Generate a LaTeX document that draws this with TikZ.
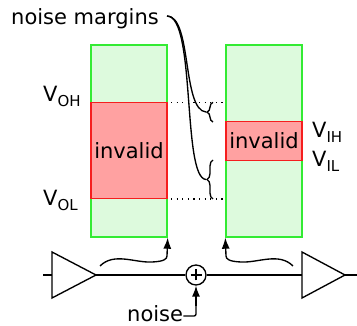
\documentclass[tikz,border=0pt]{standalone}
\usepackage{fontspec}
\setmainfont{DejaVu Sans}
\usetikzlibrary{arrows.meta,decorations.pathreplacing}
\newcommand\Vsub[1]{V\raisebox{-5pt}{\fontsize{15}{15}\selectfont #1}}
\begin{document}
\begin{tikzpicture}[x=1pt,y=-1pt,
  lbl/.style={inner sep=0pt,font=\fontsize{21}{25}\selectfont},
  goodbox/.style={draw={rgb,255:red,51;green,235;blue,51},fill={rgb,255:red,221;green,250;blue,221},line width=1.4pt,minimum width=76pt,inner sep=0pt},
  badbox/.style={draw={rgb,255:red,245;green,30;blue,30},fill={rgb,255:red,255;green,161;blue,161},line width=1.4pt,minimum width=76pt,inner sep=0pt,font=\fontsize{21}{25}\selectfont},
  wire/.style={line width=1.35pt},
  tipshape/.tip={Latex[length=11pt,width=8pt]},
  arr/.style={line width=1.35pt,-tipshape},
  dots/.style={line width=1.1pt,dash pattern=on 1.1pt off 4.5pt},
  brc/.style={line width=1.35pt,decorate,decoration={brace,amplitude=6pt}}]
\useasboundingbox (0,0) rectangle (357,326);
% voltage columns
\node[goodbox,minimum height=192pt] (lg) at (129,141) {};
\node[goodbox,minimum height=192pt] (rg) at (264,141) {};
\node[badbox,minimum height=96.5pt] (lr) at (129,150.5) {invalid};
\node[badbox,minimum height=38.6pt] (rr) at (264,141) {invalid};
% labels
\node[lbl,anchor=base west] (voh) at (43,102) {\Vsub{OH}};
\node[lbl,anchor=base west] (vol) at (43,206) {\Vsub{OL}};
\node[lbl,anchor=base west] (vih) at (312,138) {\Vsub{IH}};
\node[lbl,anchor=base west] (vil) at (312,167) {\Vsub{IL}};
\node[lbl,anchor=base west] (nm) at (11,25) {noise margins};
% dotted lines
\coordinate (d1a) at (171,102.3);
\coordinate (d1b) at (225,102.3);
\coordinate (d2a) at (171,199);
\coordinate (d2b) at (225,199);
\draw[dots] (d1a) -- (d1b);
\draw[dots] (d2a) -- (d2b);
% braces
\coordinate (b1a) at (213,122);
\coordinate (b1b) at (213,102.3);
\coordinate (b2a) at (213,199);
\coordinate (b2b) at (213,160);
\draw[brc] (b1a) -- (b1b);
\draw[brc] (b2a) -- (b2b);
\coordinate (t1) at (206,112);
\coordinate (t2) at (206,179.5);
\coordinate (nme) at (167,16);
\draw[wire] (nme) .. controls (192,16) and (182,110) .. (t1);
\draw[wire] (nme) .. controls (196,16) and (182,178) .. (t2);
% circuit
\coordinate (in) at (43,275);
\node[draw,line width=1.35pt,circle,minimum size=20pt,inner sep=0pt] (add) at (196,275) {};
\coordinate (out) at (357,275);
\draw[wire,line join=miter] (52,252) coordinate (ta1) -- (96,275) coordinate (tb1) -- (52,298) -- cycle;
\draw[wire,line join=miter] (302,252) coordinate (ta2) -- (345,275) coordinate (tb2) -- (302,298) -- cycle;
\draw[wire] (in) -- (52,275);
\draw[wire] (tb1) -- (add);
\draw[wire] (add) -- (302,275);
\draw[wire] (tb2) -- (out);
\draw[wire] ([xshift=-5.5pt]add.center) -- ([xshift=5.5pt]add.center);
\draw[wire] ([yshift=-5.5pt]add.center) -- ([yshift=5.5pt]add.center);
% squiggle arrows
\coordinate (s1) at (100,266);
\coordinate (s2) at (293,266);
\coordinate (k1) at (167,256);
\coordinate (k2) at (226,256);
\draw[wire] (s1) .. controls (114,252) and (135,263) .. (152,262) .. controls (164,261.5) and (167,259) .. (k1);
\draw[arr] (k1) -- (lg.south east);
\draw[wire] (s2) .. controls (279,252) and (258,263) .. (241,262) .. controls (229,261.5) and (226,259) .. (k2);
\draw[arr] (k2) -- (rg.south west);
% noise
\node[lbl,anchor=base west] (noise) at (127,322) {noise};
\coordinate (nk) at (196,316);
\draw[wire,rounded corners=2pt] (noise.east |- nk) -- (nk) -- (196,305);
\draw[arr] (196,306) -- (add.south);
\end{tikzpicture}
\end{document}
